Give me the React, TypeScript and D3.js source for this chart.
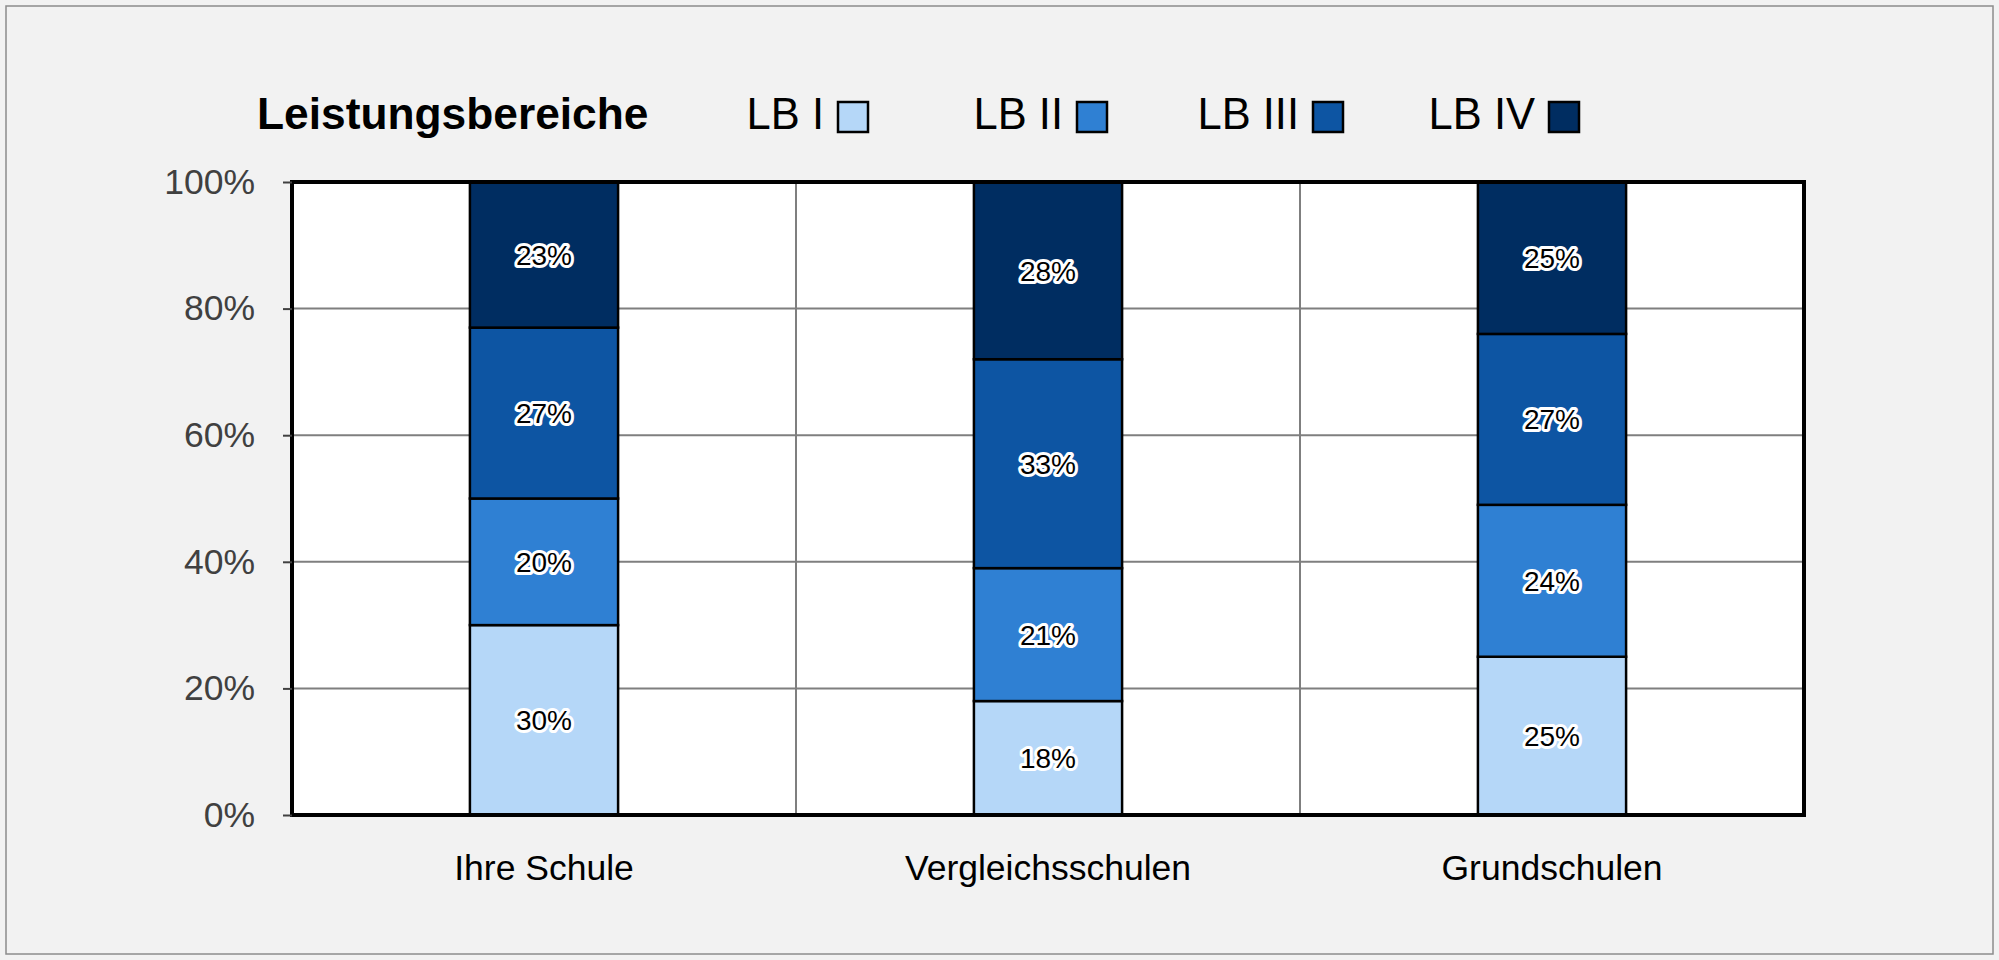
import React, { useEffect, useRef } from 'react';
import * as d3 from 'd3';

const categories = ['Ihre Schule', 'Vergleichsschulen', 'Grundschulen'];
const seriesNames = ['LB I', 'LB II', 'LB III', 'LB IV'];
const lb1 = [30, 18, 25];
const lb2 = [20, 21, 24];
const lb3 = [27, 33, 27];
const lb4 = [23, 28, 25];
const yTicks = [0, 20, 40, 60, 80, 100];
const colors = ['#b5d7f8', '#2f80d3', '#0d55a3', '#002d61'];

const W = 1999;
const H = 960;

export default function App() {
  const ref = useRef<SVGSVGElement>(null);

  useEffect(() => {
    const svg = d3.select(ref.current);
    svg.selectAll('*').remove();

    const font = 'Liberation Sans, Arial, sans-serif';
    const margin = { top: 182, right: 195, bottom: 145, left: 292 };
    const width = W - margin.left - margin.right;
    const height = H - margin.top - margin.bottom;

    // background + outer frame
    svg.append('rect').attr('width', W).attr('height', H).attr('fill', '#f2f2f2');
    svg
      .append('rect')
      .attr('x', 6)
      .attr('y', 6)
      .attr('width', 1987)
      .attr('height', 948)
      .attr('fill', 'none')
      .attr('stroke', '#8c8c8c')
      .attr('stroke-width', 1.5);

    const rows = categories.map((c, i) => ({
      cat: c,
      'LB I': lb1[i],
      'LB II': lb2[i],
      'LB III': lb3[i],
      'LB IV': lb4[i],
    }));
    const stacked = d3.stack<any>().keys(seriesNames)(rows);

    const x = d3.scaleBand().domain(categories).range([0, width]);
    const y = d3.scaleLinear().domain([0, 100]).range([height, 0]).clamp(true);
    const barW = x.bandwidth() * 0.294;

    const g = svg.append('g').attr('transform', `translate(${margin.left},${margin.top})`);

    g.append('rect').attr('width', width).attr('height', height).attr('fill', '#ffffff');

    // horizontal gridlines
    g.selectAll('.hgrid')
      .data(yTicks)
      .enter()
      .append('line')
      .attr('x1', 0)
      .attr('x2', width)
      .attr('y1', (d) => y(d))
      .attr('y2', (d) => y(d))
      .attr('stroke', '#7f7f7f')
      .attr('stroke-width', 2);

    // vertical gridlines between categories
    g.selectAll('.vgrid')
      .data(categories.slice(1))
      .enter()
      .append('line')
      .attr('x1', (d) => x(d)!)
      .attr('x2', (d) => x(d)!)
      .attr('y1', 0)
      .attr('y2', height)
      .attr('stroke', '#7f7f7f')
      .attr('stroke-width', 2);

    // bars
    stacked.forEach((layer, li) => {
      g.selectAll(`.bar${li}`)
        .data(layer)
        .enter()
        .append('rect')
        .attr('x', (d: any) => x(d.data.cat)! + (x.bandwidth() - barW) / 2)
        .attr('y', (d) => y(d[1]))
        .attr('width', barW)
        .attr('height', (d) => y(d[0]) - y(d[1]))
        .attr('fill', colors[li])
        .attr('stroke', '#000')
        .attr('stroke-width', 2.5);

      g.selectAll(`.lbl${li}`)
        .data(layer)
        .enter()
        .append('text')
        .attr('x', (d: any) => x(d.data.cat)! + x.bandwidth() / 2)
        .attr('y', (d) => (y(d[0]) + y(d[1])) / 2)
        .attr('dy', '0.36em')
        .attr('text-anchor', 'middle')
        .attr('font-family', font)
        .attr('font-size', 28)
        .attr('fill', '#000')
        .attr('stroke', '#fff')
        .attr('stroke-width', 6)
        .attr('stroke-linejoin', 'round')
        .attr('paint-order', 'stroke')
        .text((d) => `${d[1] - d[0]}%`);
    });

    // plot frame
    g.append('rect')
      .attr('width', width)
      .attr('height', height)
      .attr('fill', 'none')
      .attr('stroke', '#000')
      .attr('stroke-width', 4);

    // y axis
    const yAxis = d3
      .axisLeft(y)
      .tickValues(yTicks)
      .tickSize(9)
      .tickPadding(28)
      .tickFormat((d) => `${d}%`);
    const ya = g.append('g').call(yAxis);
    ya.select('.domain').remove();
    ya.selectAll('line').attr('stroke', '#404040').attr('stroke-width', 2);
    ya.selectAll('text')
      .attr('font-family', font)
      .attr('font-size', 35.5)
      .attr('fill', '#404040');

    // x axis labels
    const xAxis = d3.axisBottom(x).tickSize(0).tickPadding(40);
    const xa = g.append('g').attr('transform', `translate(0,${height})`).call(xAxis);
    xa.select('.domain').remove();
    xa.selectAll('text').attr('font-family', font).attr('font-size', 35.5).attr('fill', '#000');

    // title + legend
    svg
      .append('text')
      .attr('x', 257)
      .attr('y', 129)
      .attr('font-family', font)
      .attr('font-weight', 'bold')
      .attr('font-size', 44.3)
      .attr('fill', '#000')
      .text('Leistungsbereiche');

    const legendX = [838, 1077, 1313, 1549];
    const leg = svg
      .selectAll('.leg')
      .data(seriesNames)
      .enter()
      .append('g');
    leg
      .append('text')
      .attr('x', (d, i) => legendX[i] - 14)
      .attr('y', 129)
      .attr('text-anchor', 'end')
      .attr('font-family', font)
      .attr('font-size', 43.5)
      .attr('fill', '#000')
      .text((d) => d);
    leg
      .append('rect')
      .attr('x', (d, i) => legendX[i])
      .attr('y', 102)
      .attr('width', 30)
      .attr('height', 30)
      .attr('fill', (d, i) => colors[i])
      .attr('stroke', '#000')
      .attr('stroke-width', 2.5);
  }, []);

  return (
    <svg
      ref={ref}
      width={W}
      height={H}
      style={{ position: 'absolute', left: 0, top: 0, display: 'block' }}
    />
  );
}
